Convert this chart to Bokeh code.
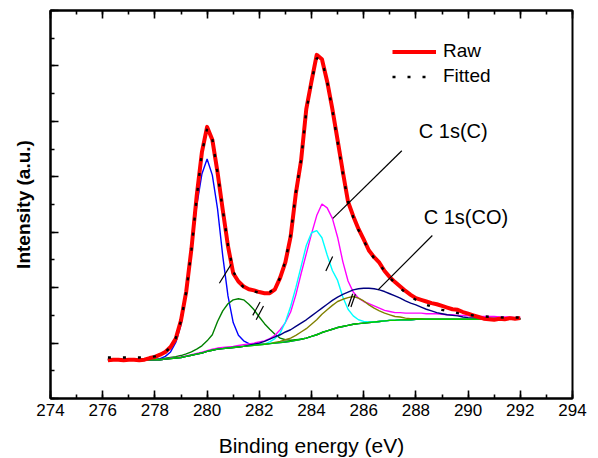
import numpy as np
from bokeh.plotting import figure
from bokeh.models import (Range1d, LinearAxis, SingleIntervalTicker, CustomJSTickFormatter,
                          Legend, LegendItem, Label)
from bokeh.embed import file_html
from bokeh.resources import INLINE

# ---------------- data ----------------
energy = [276.2, 276.4, 276.6, 276.8, 277.0, 277.2, 277.4, 277.6, 277.8, 278.0,
          278.2, 278.4, 278.6, 278.8, 279.0, 279.2, 279.4, 279.6, 279.8, 280.0,
          280.2, 280.4, 280.6, 280.8, 281.0, 281.2, 281.4, 281.6, 281.8, 282.0,
          282.2, 282.4, 282.6, 282.8, 283.0, 283.2, 283.4, 283.6, 283.8, 284.0,
          284.2, 284.4, 284.6, 284.8, 285.0, 285.2, 285.4, 285.6, 285.8, 286.0,
          286.2, 286.4, 286.6, 286.8, 287.0, 287.2, 287.4, 287.6, 287.8, 288.0,
          288.2, 288.4, 288.6, 288.8, 289.0, 289.2, 289.4, 289.6, 289.8, 290.0,
          290.2, 290.4, 290.6, 290.8, 291.0, 291.2, 291.4, 291.6, 291.8, 292.0]

raw = [0.69, 0.70, 0.70, 0.69, 0.70, 0.70, 0.69, 0.70, 0.73, 0.75,
       0.79, 0.84, 0.93, 1.08, 1.41, 1.93, 2.70, 3.65, 4.44, 4.90,
       4.67, 4.08, 3.40, 2.75, 2.26, 2.11, 2.02, 1.97, 1.95, 1.92,
       1.90, 1.90, 1.97, 2.18, 2.46, 2.92, 3.70, 4.29, 5.22, 5.72,
       6.20, 6.12, 5.72, 5.22, 4.66, 4.09, 3.55, 3.29, 3.06, 2.87,
       2.67, 2.55, 2.45, 2.30, 2.19, 2.10, 2.02, 1.94, 1.87, 1.81,
       1.78, 1.75, 1.72, 1.70, 1.67, 1.64, 1.61, 1.60, 1.56, 1.53,
       1.50, 1.47, 1.44, 1.43, 1.42, 1.44, 1.43, 1.45, 1.44, 1.45]

fitted = [0.74, 0.74, 0.74, 0.74, 0.74, 0.74, 0.74, 0.745, 0.75, 0.76,
          0.79, 0.84, 0.93, 1.09, 1.40, 1.92, 2.68, 3.62, 4.43, 4.87,
          4.68, 4.07, 3.40, 2.77, 2.30, 2.10, 2.01, 1.96, 1.93, 1.91,
          1.90, 1.92, 1.99, 2.18, 2.48, 2.95, 3.72, 4.30, 5.18, 5.72,
          6.14, 6.10, 5.72, 5.20, 4.63, 4.06, 3.55, 3.27, 3.04, 2.85,
          2.67, 2.53, 2.42, 2.30, 2.18, 2.08, 1.99, 1.91, 1.84, 1.78,
          1.73, 1.69, 1.66, 1.63, 1.60, 1.58, 1.56, 1.54, 1.52, 1.51,
          1.50, 1.49, 1.48, 1.475, 1.47, 1.465, 1.46, 1.46, 1.46, 1.46]

background = [0.70, 0.70, 0.70, 0.70, 0.70, 0.70, 0.70, 0.70, 0.70, 0.70,
              0.70, 0.71, 0.72, 0.73, 0.74, 0.76, 0.78, 0.80, 0.82, 0.85,
              0.87, 0.89, 0.90, 0.91, 0.92, 0.93, 0.94, 0.95, 0.96, 0.97,
              0.98, 0.99, 1.00, 1.01, 1.02, 1.03, 1.05, 1.07, 1.09, 1.12,
              1.15, 1.19, 1.22, 1.25, 1.28, 1.30, 1.32, 1.34, 1.35, 1.36,
              1.37, 1.38, 1.39, 1.40, 1.41, 1.41, 1.42, 1.42, 1.42, 1.43,
              1.43, 1.43, 1.43, 1.43, 1.43, 1.43, 1.43, 1.43, 1.43, 1.43,
              1.43, 1.43, 1.44, 1.44, 1.44, 1.44, 1.44, 1.44, 1.44, 1.44]

# component heights above the background
peak_280 = [0, 0, 0, 0, 0, 0, 0, 0, 0, 0,
            0.02, 0.05, 0.12, 0.28, 0.59, 1.15, 1.91, 2.67, 3.23, 3.47,
            3.16, 2.53, 1.67, 0.94, 0.45, 0.21, 0.10, 0.04, 0.02, 0.01,
            0, 0, 0, 0, 0, 0, 0, 0, 0, 0,
            0, 0, 0, 0, 0, 0, 0, 0, 0, 0,
            0, 0, 0, 0, 0, 0, 0, 0, 0, 0,
            0, 0, 0, 0, 0, 0, 0, 0, 0, 0,
            0, 0, 0, 0, 0, 0, 0, 0, 0, 0]

peak_281 = [0, 0, 0, 0, 0, 0, 0, 0, 0, 0.01,
            0.01, 0.015, 0.02, 0.025, 0.035, 0.045, 0.06, 0.09, 0.13, 0.19,
            0.28, 0.50, 0.68, 0.80, 0.86, 0.87, 0.84, 0.75, 0.64, 0.50,
            0.37, 0.26, 0.16, 0.08, 0.04, 0.02, 0.01, 0, 0, 0,
            0, 0, 0, 0, 0, 0, 0, 0, 0, 0,
            0, 0, 0, 0, 0, 0, 0, 0, 0, 0,
            0, 0, 0, 0, 0, 0, 0, 0, 0, 0,
            0, 0, 0, 0, 0, 0, 0, 0, 0, 0]

peak_2844 = [0, 0, 0, 0, 0, 0, 0, 0, 0, 0,
             0, 0, 0.005, 0.005, 0.01, 0.01, 0.01, 0.015, 0.015, 0.015,
             0.02, 0.02, 0.02, 0.02, 0.02, 0.025, 0.03, 0.035, 0.04, 0.05,
             0.06, 0.09, 0.14, 0.23, 0.35, 0.53, 0.82, 1.18, 1.52, 1.85,
             2.15, 2.32, 2.22, 2.00, 1.63, 1.17, 0.80, 0.58, 0.46, 0.39,
             0.34, 0.29, 0.24, 0.19, 0.16, 0.14, 0.13, 0.12, 0.12, 0.11,
             0.11, 0.10, 0.10, 0.10, 0.09, 0.08, 0.08, 0.07, 0.07, 0.06,
             0.05, 0.05, 0.04, 0.04, 0.04, 0.03, 0.03, 0.03, 0.02, 0.02]

peak_2841 = [0, 0, 0, 0, 0, 0, 0, 0, 0, 0,
             0, 0, 0, 0, 0, 0, 0, 0, 0, 0,
             0, 0, 0, 0, 0, 0, 0, 0, 0, 0,
             0, 0.03, 0.08, 0.17, 0.36, 0.63, 0.95, 1.31, 1.67, 1.87,
             1.88, 1.71, 1.37, 1.06, 0.85, 0.53, 0.29, 0.15, 0.07, 0.03,
             0.01, 0, 0, 0, 0, 0, 0, 0, 0, 0,
             0, 0, 0, 0, 0, 0, 0, 0, 0, 0,
             0, 0, 0, 0, 0, 0, 0, 0, 0, 0]

peak_286 = [0, 0, 0, 0, 0, 0, 0, 0, 0, 0,
            0, 0, 0, 0, 0, 0, 0, 0, 0, 0,
            0, 0, 0, 0, 0, 0, 0, 0.01, 0.02, 0.03,
            0.05, 0.08, 0.11, 0.14, 0.18, 0.21, 0.25, 0.29, 0.33, 0.37,
            0.41, 0.44, 0.48, 0.52, 0.55, 0.58, 0.60, 0.62, 0.63, 0.63,
            0.62, 0.60, 0.57, 0.53, 0.48, 0.44, 0.39, 0.34, 0.30, 0.26,
            0.22, 0.18, 0.15, 0.12, 0.10, 0.08, 0.07, 0.06, 0.04, 0.03,
            0.025, 0.02, 0.015, 0.01, 0.01, 0.005, 0, 0, 0, 0]

peak_2855 = [0, 0, 0, 0, 0, 0, 0, 0, 0, 0,
             0, 0, 0, 0, 0, 0, 0, 0, 0, 0,
             0, 0, 0, 0, 0, 0, 0, 0, 0, 0,
             0, 0, 0.01, 0.02, 0.04, 0.06, 0.09, 0.13, 0.17, 0.22,
             0.27, 0.33, 0.38, 0.43, 0.47, 0.49, 0.50, 0.50, 0.46, 0.40,
             0.32, 0.25, 0.19, 0.14, 0.10, 0.07, 0.05, 0.03, 0.02, 0.01,
             0.01, 0, 0, 0, 0, 0, 0, 0, 0, 0,
             0, 0, 0, 0, 0, 0, 0, 0, 0, 0]

components = [("peak_280", peak_280, "#0000ff"),
              ("peak_281", peak_281, "#008000"),
              ("peak_2844", peak_2844, "#ff00ff"),
              ("peak_2841", peak_2841, "#00ffff"),
              ("peak_2855", peak_2855, "#808000"),
              ("peak_286", peak_286, "#000080")]

legend_labels = ["Raw", "Fitted"]
annot_texts = ["C 1s(C)", "C 1s(CO)"]
annot_x = [288.11, 288.30]
annot_y = [4.83, 3.27]
leader_x0 = [287.46, 288.63]
leader_y0 = [4.47, 2.94]
leader_x1 = [284.82, 286.55]
leader_y1 = [3.25, 1.96]
slash_x0 = [280.47, 281.75, 281.88, 284.55, 285.41, 285.51]
slash_y0 = [2.08, 1.50, 1.42, 2.30, 1.66, 1.65]
slash_x1 = [280.92, 282.03, 282.16, 284.81, 285.58, 285.68]
slash_y1 = [2.42, 1.74, 1.67, 2.56, 1.89, 1.88]

FONT = "Liberation Sans"

# ---------------- figure ----------------
p = figure(frame_width=522, frame_height=388, output_backend="svg", toolbar_location=None,
           x_range=Range1d(274, 294), y_range=Range1d(0, 7),
           min_border_left=50, min_border_right=16, min_border_top=10, min_border_bottom=60)
p.grid.visible = False
p.outline_line_color = "black"
p.outline_line_width = 2
p.background_fill_color = "white"
p.border_fill_color = "white"

xt = SingleIntervalTicker(interval=2, num_minor_ticks=2)
yt = SingleIntervalTicker(interval=1, num_minor_ticks=2)
bottom_axis = p.below[0]
left_axis = p.left[0]
bottom_axis.ticker = xt
left_axis.ticker = yt
left_axis.formatter = CustomJSTickFormatter(code="return ''")

top_axis = LinearAxis(ticker=xt, formatter=CustomJSTickFormatter(code="return ''"))
p.add_layout(top_axis, "above")

for ax in [bottom_axis, left_axis, top_axis]:
    ax.axis_line_width = 2
    ax.axis_line_color = "black"
    ax.major_tick_in = 8
    ax.major_tick_out = 0
    ax.minor_tick_in = 4
    ax.minor_tick_out = 0
    ax.major_tick_line_width = 1.6
    ax.minor_tick_line_width = 1.6
    ax.major_tick_line_color = "black"
    ax.minor_tick_line_color = "black"

top_axis.major_label_text_font_size = "1px"
top_axis.major_label_standoff = 0
left_axis.major_label_text_font_size = "1px"
left_axis.major_label_standoff = 0

bottom_axis.major_label_text_font = FONT
bottom_axis.major_label_text_font_size = "17px"
bottom_axis.major_label_text_color = "black"
bottom_axis.major_label_standoff = 5
bottom_axis.axis_label = "Binding energy (eV)"
bottom_axis.axis_label_text_font = FONT
bottom_axis.axis_label_text_font_size = "21px"
bottom_axis.axis_label_text_font_style = "normal"
bottom_axis.axis_label_text_color = "black"
bottom_axis.axis_label_standoff = 15

left_axis.axis_label = "Intensity (a.u.)"
left_axis.axis_label_text_font = FONT
left_axis.axis_label_text_font_size = "19px"
left_axis.axis_label_text_font_style = "bold"
left_axis.axis_label_text_color = "black"
left_axis.axis_label_standoff = 17

# ---------------- glyphs ----------------
x = np.array(energy)
bg = np.array(background)
for name, comp, color in components:
    p.line(x, bg + np.array(comp), line_color=color, line_width=1.4)
p.line(x, bg, line_color="#00cc00", line_width=1.4)

r_raw = p.line(x, raw, line_color="#ff0000", line_width=4, line_join="round")
r_fit = p.line(x, fitted, line_color="black", line_width=2.4, line_dash="3 12")

p.segment(x0=leader_x0, y0=leader_y0, x1=leader_x1, y1=leader_y1, line_color="black", line_width=1.2)
p.segment(x0=slash_x0, y0=slash_y0, x1=slash_x1, y1=slash_y1, line_color="black", line_width=1.2)

for t, ax_, ay_ in zip(annot_texts, annot_x, annot_y):
    p.add_layout(Label(x=ax_, y=ay_, text=t, text_baseline="middle", text_align="left",
                       text_font=FONT, text_font_size="20px", text_color="black"))

legend = Legend(items=[LegendItem(label=legend_labels[0], renderers=[r_raw]),
                       LegendItem(label=legend_labels[1], renderers=[r_fit])],
                location=(342, 311), glyph_width=44, glyph_height=21, spacing=3,
                padding=0, margin=0, label_standoff=7,
                label_text_font=FONT, label_text_font_size="19px", label_text_color="black",
                border_line_alpha=0, background_fill_alpha=0)
p.add_layout(legend)

open("out.html", "w").write(file_html(p, INLINE))
